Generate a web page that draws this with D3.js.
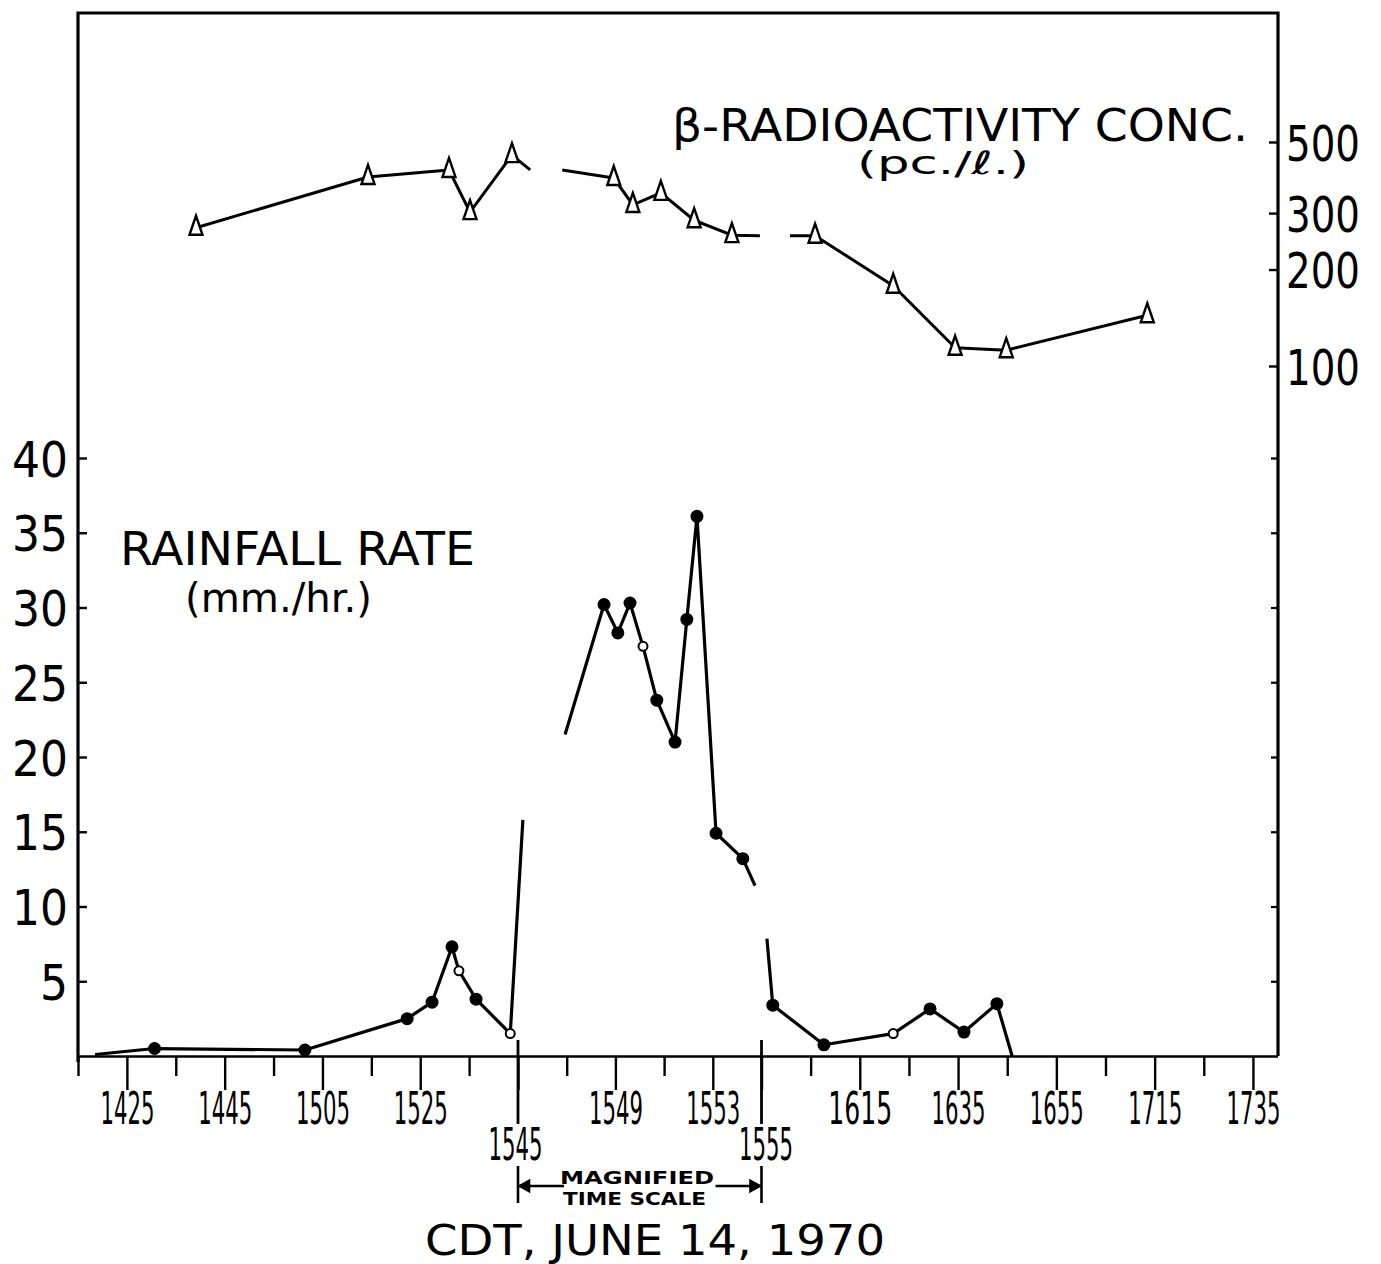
<!DOCTYPE html>
<html>
<head>
<meta charset="utf-8">
<script src="https://cdn.jsdelivr.net/npm/d3@7"></script>
<style>
  body { margin: 0; background: #fff; }
  svg { display: block; }
  text { font-family: "DejaVu Sans", sans-serif; fill: #000; }
</style>
</head>
<body>
<div id="chart"></div>
<script>
// ---- data ----
// rainfall rate (mm/hr); null breaks the line, "none" = line end without a marker
const rainTime = ["14:18:30", "14:30:40", "15:01:25", "15:22:20", "15:27:25", "15:31:30", "15:32:55", "15:36:25", "15:43:25", "15:45:12",
    null,
    "15:46:56", "15:48:32", "15:49:06", "15:49:36", "15:50:08", "15:50:42", "15:51:27", "15:51:56", "15:52:21", "15:53:08", "15:54:14", "15:54:44",
    null,
    "15:56:06", "15:57:18", "16:07:42", "16:21:48", "16:29:18", "16:36:12", "16:42:54", "16:46:00"];
const rainRate = [0.1, 0.5, 0.4, 2.5, 3.6, 7.3, 5.7, 3.8, 1.5, 15.8,
    null,
    21.5, 30.2, 28.3, 30.3, 27.4, 23.8, 21.0, 29.2, 36.1, 14.9, 13.2, 11.4,
    null,
    7.85, 3.4, 0.75, 1.5, 3.15, 1.6, 3.5, 0];
const rainMark = ["none", "dot", "dot", "dot", "dot", "dot", "open", "dot", "open", "none",
    null,
    "none", "dot", "dot", "dot", "open", "dot", "dot", "dot", "dot", "dot", "dot", "none",
    null,
    "none", "dot", "dot", "open", "dot", "dot", "dot", "none"];

// beta radioactivity concentration (pc./l)
const betaTime = ["14:39:08", "15:14:19", "15:30:53", "15:35:11", "15:43:46", "15:45:30",
    null,
    "15:46:49", "15:48:56", "15:49:43", "15:50:52", "15:52:14", "15:53:47", "15:54:56",
    null,
    "16:00:48", "16:05:54", "16:21:48", "16:34:24", "16:44:48", "17:13:30"];
const betaConc = [270, 389, 409, 302, 455, 409,
    null,
    409, 386, 318, 347, 285, 256, 255,
    null,
    255, 255, 178, 114, 112, 144];
const betaMark = [true, true, true, true, true, false,
    null,
    false, true, true, true, true, true, false,
    null,
    false, true, true, true, true, true];

// time axis (the 15:45-15:55 stretch is drawn on a magnified scale)
const labelTimes = ["14:25", "14:45", "15:05", "15:25", "15:45", "15:49", "15:53", "15:55", "16:15", "16:35", "16:55", "17:15", "17:35"];
const labelText = ["1425", "1445", "1505", "1525", "1545", "1549", "1553", "1555", "1615", "1635", "1655", "1715", "1735"];
const lowLabels = ["1545", "1555"];
const minorTimes = ["14:15", "14:35", "14:55", "15:15", "15:35", "15:47", "15:51", "16:05", "16:25", "16:45", "17:05", "17:25"];
const rainTicks = [5, 10, 15, 20, 25, 30, 35, 40];
const betaTicks = [100, 200, 300, 500];

// ---- helpers ----
const toMin = s => {
    const p = s.split(":").map(Number);
    return p[0] * 60 + p[1] + (p[2] || 0) / 60;
};

const W = 1381, H = 1264;
const svg = d3.select("#chart").append("svg")
    .attr("width", W)
    .attr("height", H);
svg.append("rect").attr("width", W).attr("height", H).attr("fill", "#fff");

// piecewise time scale: normal / magnified / normal
const x = d3.scaleLinear()
    .domain([toMin("14:15"), toMin("15:45"), toMin("15:55"), toMin("17:40")])
    .range([78, 518, 761.5, 1277.5]);
const yRain = d3.scaleLinear().domain([0, 40]).range([1056, 458]);
const yBeta = d3.scaleLog().domain([100, 500]).range([366, 142]);

const LEFT = 78, RIGHT = 1278, TOP = 13, BASE = 1056;

// frame
svg.append("path")
    .attr("d", `M${LEFT},1062 V${TOP} H${RIGHT} V${BASE}`)
    .attr("fill", "none")
    .attr("stroke", "#000")
    .attr("stroke-width", 3.2);

// ---- x axis ----
const xg = svg.append("g").attr("transform", `translate(0,${BASE})`);
xg.call(d3.axisBottom(x)
    .tickValues(minorTimes.map(toMin))
    .tickSize(20)
    .tickSizeOuter(0)
    .tickFormat(""));
const xl = svg.append("g").attr("transform", `translate(0,${BASE})`);
xl.call(d3.axisBottom(x)
    .tickValues(labelTimes.map(toMin))
    .tickSize(34)
    .tickSizeOuter(0)
    .tickFormat((d, i) => labelText[i]));
xl.select(".domain").remove();
xg.select(".domain").attr("stroke-width", 2.6).attr("d", `M${LEFT},0.5H${RIGHT}`);
svg.selectAll(".tick line").attr("stroke-width", 2.4);
xl.selectAll(".tick text")
    .attr("font-size", 44)
    .attr("dy", null)
    .attr("x", (d, i) => labelText[i] === "1555" ? 4 : (labelText[i] === "1545" ? -3 : 0))
    .attr("y", (d, i) => lowLabels.includes(labelText[i]) ? 104 : 68)
    .attr("textLength", (d, i) => labelText[i] === "1615" ? 64 : 54)
    .attr("lengthAdjust", "spacingAndGlyphs");

// separators marking the magnified stretch
["15:45", "15:55"].forEach(t => {
    svg.append("line")
        .attr("x1", x(toMin(t))).attr("x2", x(toMin(t)))
        .attr("y1", 1040).attr("y2", 1124)
        .attr("stroke", "#000").attr("stroke-width", 2.8);
});

// "magnified time scale" bracket
const bx0 = x(toMin("15:45")), bx1 = x(toMin("15:55"));
const br = svg.append("g").attr("stroke", "#000").attr("stroke-width", 2.6).attr("fill", "none");
br.append("line").attr("x1", bx0).attr("x2", bx0).attr("y1", 1166).attr("y2", 1203);
br.append("line").attr("x1", bx1).attr("x2", bx1).attr("y1", 1166).attr("y2", 1203);
br.append("line").attr("x1", bx0).attr("x2", bx0 + 46).attr("y1", 1186).attr("y2", 1186);
br.append("line").attr("x1", bx1 - 46).attr("x2", bx1).attr("y1", 1186).attr("y2", 1186);
br.append("path").attr("d", `M${bx0 + 2},1186 l9,-5 v10 z`).attr("fill", "#000");
br.append("path").attr("d", `M${bx1 - 2},1186 l-9,-5 v10 z`).attr("fill", "#000");
svg.append("text")
    .attr("x", 560).attr("y", 1184)
    .attr("font-size", 17).attr("font-weight", "bold")
    .attr("textLength", 154).attr("lengthAdjust", "spacingAndGlyphs")
    .text("MAGNIFIED");
svg.append("text")
    .attr("x", 563).attr("y", 1205)
    .attr("font-size", 17).attr("font-weight", "bold")
    .attr("textLength", 143).attr("lengthAdjust", "spacingAndGlyphs")
    .text("TIME SCALE");

// ---- left axis (rainfall) ----
const yl = svg.append("g").attr("transform", `translate(${LEFT},0)`);
yl.call(d3.axisLeft(yRain).tickValues(rainTicks).tickSize(-9).tickPadding(10).tickSizeOuter(0));
yl.select(".domain").remove();
yl.selectAll(".tick line").attr("stroke-width", 2.4);
yl.selectAll(".tick text")
    .attr("font-size", 50)
    .attr("dy", "0.36em")
    .attr("textLength", d => d < 10 ? 28 : 56)
    .attr("lengthAdjust", "spacingAndGlyphs");

// ---- right axis (radioactivity, log) ----
const yr = svg.append("g").attr("transform", `translate(${RIGHT},0)`);
yr.call(d3.axisRight(yBeta).tickValues(betaTicks).tickSize(-9).tickPadding(8).tickSizeOuter(0).tickFormat(d3.format("d")));
yr.select(".domain").remove();
yr.selectAll(".tick line").attr("stroke-width", 2.4);
yr.selectAll(".tick text")
    .attr("font-size", 50)
    .attr("dy", "0.36em")
    .attr("textLength", 74)
    .attr("lengthAdjust", "spacingAndGlyphs");
// plain inward ticks on the right edge lined up with the rainfall scale
const yr2 = svg.append("g").attr("transform", `translate(${RIGHT},0)`);
yr2.call(d3.axisRight(yRain).tickValues(rainTicks).tickSize(-7).tickSizeOuter(0).tickFormat(""));
yr2.select(".domain").remove();
yr2.selectAll(".tick line").attr("stroke-width", 2.2);

// ---- rainfall series ----
const rain = rainTime.map((t, i) => ({ t: t ? toMin(t) : null, v: rainRate[i], m: rainMark[i] }));
const rainLine = d3.line()
    .defined(d => d.v != null)
    .x(d => x(d.t))
    .y(d => yRain(d.v));
svg.append("path")
    .datum(rain)
    .attr("d", rainLine)
    .attr("fill", "none")
    .attr("stroke", "#000")
    .attr("stroke-width", 3.2)
    .attr("stroke-linejoin", "round");
svg.selectAll(".rain-dot")
    .data(rain.filter(d => d.m === "dot" || d.m === "open"))
    .enter().append("circle")
    .attr("class", "rain-dot")
    .attr("cx", d => x(d.t))
    .attr("cy", d => yRain(d.v))
    .attr("r", d => d.m === "dot" ? 5.5 : 4.5)
    .attr("fill", d => d.m === "dot" ? "#000" : "#fff")
    .attr("stroke", "#000")
    .attr("stroke-width", 2);

// ---- radioactivity series ----
const beta = betaTime.map((t, i) => ({ t: t ? toMin(t) : null, v: betaConc[i], m: betaMark[i] }));
const betaLine = d3.line()
    .defined(d => d.v != null)
    .x(d => x(d.t))
    .y(d => yBeta(d.v));
svg.append("path")
    .datum(beta)
    .attr("d", betaLine)
    .attr("fill", "none")
    .attr("stroke", "#000")
    .attr("stroke-width", 3)
    .attr("stroke-linejoin", "round");
svg.selectAll(".tri")
    .data(beta.filter(d => d.m))
    .enter().append("path")
    .attr("class", "tri")
    .attr("transform", d => `translate(${x(d.t)},${yBeta(d.v)})`)
    .attr("d", "M0,-12 L6.5,7 L-6.5,7 Z")
    .attr("fill", "#fff")
    .attr("stroke", "#000")
    .attr("stroke-width", 2.4)
    .attr("stroke-linejoin", "miter");

// ---- labels ----
svg.append("text")
    .attr("x", 672).attr("y", 141)
    .attr("font-size", 44)
    .attr("textLength", 576).attr("lengthAdjust", "spacingAndGlyphs")
    .text("β-RADIOACTIVITY CONC.");
svg.append("text")
    .attr("x", 857).attr("y", 174)
    .attr("font-size", 32)
    .attr("textLength", 172).attr("lengthAdjust", "spacingAndGlyphs")
    .text("(pc./ℓ.)");
svg.append("text")
    .attr("x", 120).attr("y", 565)
    .attr("font-size", 46)
    .attr("textLength", 355).attr("lengthAdjust", "spacingAndGlyphs")
    .text("RAINFALL RATE");
svg.append("text")
    .attr("x", 185).attr("y", 612)
    .attr("font-size", 40)
    .attr("textLength", 187).attr("lengthAdjust", "spacingAndGlyphs")
    .text("(mm./hr.)");
svg.append("text")
    .attr("x", 425).attr("y", 1255)
    .attr("font-size", 42)
    .attr("textLength", 460).attr("lengthAdjust", "spacingAndGlyphs")
    .text("CDT, JUNE 14, 1970");
</script>
</body>
</html>
